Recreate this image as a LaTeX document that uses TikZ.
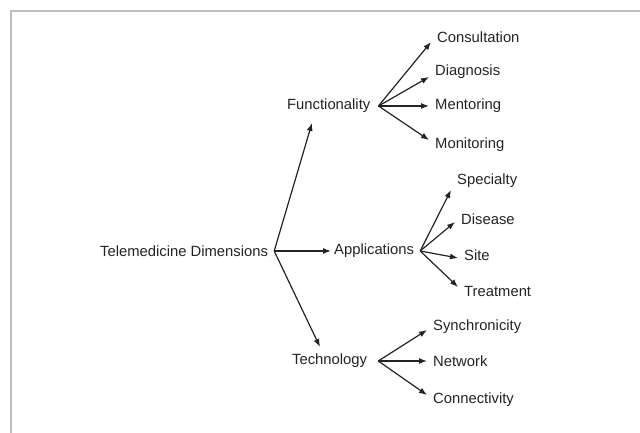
\documentclass[tikz,border=0pt]{standalone}
\usepackage{fontspec}
\setmainfont{Liberation Sans}
\usepackage{xcolor}
\usetikzlibrary{arrows.meta, positioning}
\definecolor{framegray}{RGB}{190,190,190}
\definecolor{inkgray}{RGB}{35,35,35}
\tikzset{
  dimlabel/.style={
    anchor=west,
    inner xsep=6pt,
    inner ysep=2pt,
    text=inkgray,
    font=\fontsize{14.8}{17}\selectfont,
  },
  arrow/.style={
    -{Latex[length=8pt,width=6pt]},
    draw=inkgray,
    line width=1.2pt
  }
}

\begin{document}
\begin{tikzpicture}[x=1pt, y=-1pt]
  \useasboundingbox (0,0) rectangle (640,433);

  % Frame of the figure (cropped)
  \draw [framegray, line width=2pt] (11,433) -- (11,11) -- (640,11);

  % Root and the three dimensions
  \node [dimlabel] (root) at (94,251)  {Telemedicine Dimensions};
  \node [dimlabel] (func) at (281,106) {Functionality};
  \node [dimlabel] (appl) at (328,251) {Applications};
  \node [dimlabel] (tech) at (286,361) {Technology};

  % Functionality branches
  \node [dimlabel] (cons) at (431,37)  {Consultation};
  \node [dimlabel] (diag) at (429,72)  {Diagnosis};
  \node [dimlabel] (ment) at (429,106) {Mentoring};
  \node [dimlabel] (moni) at (429,145) {Monitoring};

  % Applications branches
  \node [dimlabel] (spec) at (451,181) {Specialty};
  \node [dimlabel] (dise) at (455,219) {Disease};
  \node [dimlabel] (site) at (458,255) {Site};
  \node [dimlabel] (trea) at (458,291) {Treatment};

  % Technology branches
  \node [dimlabel] (sync) at (427,327) {Synchronicity};
  \node [dimlabel] (netw) at (427,361) {Network};
  \node [dimlabel] (conn) at (427,400) {Connectivity};

  % Root -> dimensions
  \draw [arrow] (root.east) -- ([xshift=31pt, yshift=-17pt]func.west);
  \draw [arrow] (root.east) -- ([xshift=3pt]appl.west);
  \draw [arrow] (root.east) -- ([xshift=34pt, yshift=14pt]tech.west);

  % Functionality -> branches
  \draw [arrow] ([xshift=2pt]func.east) -- ([yshift=-5pt]cons.west);
  \draw [arrow] ([xshift=2pt]func.east) -- ([yshift=-5pt]diag.west);
  \draw [arrow] ([xshift=2pt]func.east) -- (ment.west);
  \draw [arrow] ([xshift=2pt]func.east) -- ([yshift=5pt]moni.west);

  % Applications -> branches
  \draw [arrow] (appl.east) -- ([yshift=-9pt]spec.west);
  \draw [arrow] (appl.east) -- ([yshift=-3pt]dise.west);
  \draw [arrow] (appl.east) -- ([yshift=-3pt]site.west);
  \draw [arrow] (appl.east) -- ([yshift=4pt]trea.west);

  % Technology -> branches
  \draw [arrow] ([xshift=5pt]tech.east) -- ([yshift=-3pt]sync.west);
  \draw [arrow] ([xshift=5pt]tech.east) -- (netw.west);
  \draw [arrow] ([xshift=5pt]tech.east) -- ([yshift=5pt]conn.west);
\end{tikzpicture}
\end{document}
